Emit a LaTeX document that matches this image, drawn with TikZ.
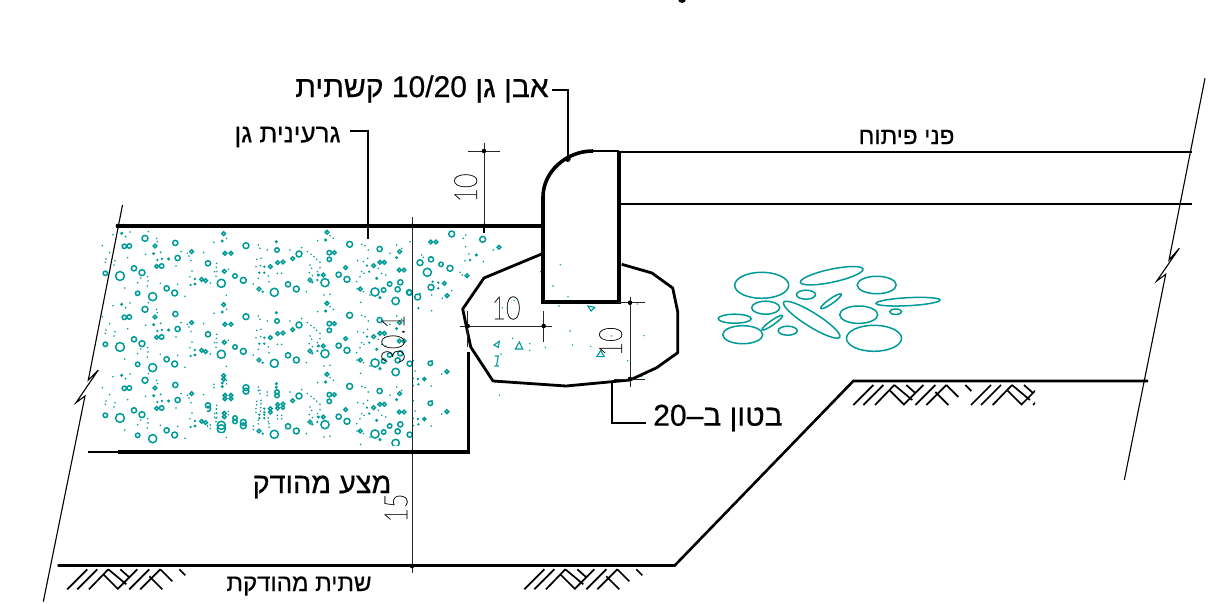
\documentclass[tikz,border=0pt]{standalone}
\usepackage{fontspec}
\setmainfont{Liberation Sans}
\newfontfamily\hebfont[Script=Hebrew,FakeBold=0.5]{Liberation Sans}
\newfontfamily\dimfont[FakeBold=1.1]{Lato Thin}
\TeXXeTstate=1
\definecolor{hatchteal}{HTML}{009A98}
\definecolor{dimgrey}{HTML}{111111}
% stipple data: x/y/r in 3x crop units
\def\ZfourOpen{551/71/5,315/85/8,253/109/6,268/108/6,406/99/7,455/125/5,413/144/7,345/108/5,282/175/7,306/188/8,240/198/12,350/169/5,365/168/6,380/235/7,404/249/8,338/260/11,293/250/6,196/190/6,504/160/7,553/184/5,485/208/5,497/212/5,544/220/11,555/130/5}
\def\ZfourFill{245/70/4,341/131/4,386/147/4,366/147/3,547/93/4,465/222/4,452/225/3,465/207/3,257/80/2.5,352/150/3,362/127/2.5}
\def\ZfourDot{270/66,219/74,325/65,350/85,352/95,423/125,442/130,491/128,522/97,560/85,263/143,317/133,198/147,196/157,225/152,222/165,187/107,209/128,408/168,447/138,453/152,456/183,450/200,511/219,435/259,413/223,302/204,293/218,323/200,324/213,322/228,361/220,254/234,559/256,530/160,529/172,531/185,528/199,524/185,565/178}
\def\ZtwelveOpen{48/62/8,3/85/5,141/75/6,207/87/8,188/101/5,159/111/5,143/113/5,15/153/6,40/166/8,87/192/5,133/202/11,174/178/7,199/192/8,121/125/5,359/58/8,298/83/6,313/83/5,298/103/6,347/128/5,326/149/7,351/163/8,285/173/11,240/165/5,280/150/5,291/22/5,449/72/7,450/112/5,463/112/5,431/122/5,509/80/5,479/177/6,511/172/7,503/193/7,497/228/10,435/201/11,461/195/6,391/192/5,508/135/5,522/135/5,539/203/7}
\def\ZtwelveFill{139/50/4,287/45/4,103/125/3,88/143/3,103/143/3,265/150/4,262/165/3,247/172/3,98/200/3,440/160/4,450/218/4,411/122/3,418/140/3,500/98/4}
\def\ZtwelveDot{300/32,310/40,263/47,85/60,90/70,112/75,180/75,215/68,232/80,243/88,252/95,260/103,270/112,270/128,240/120,245/130,238/143,262/140,247/152,282/210,229/200,300/208,80/103,93/100,78/125,92/122,142/145,155/145,115/153,117/170,70/177,85/160,405/62,395/58,415/75,383/107,400/110,413/100,395/140,390/155,380/170,381/192,400/200,420/210,392/232,402/145,445/130,455/145,467/150,480/85,500/60,515/70}
\def\ZtwoOpen{155/12/8,248/28/8,297/52/5,92/36/5,108/36/5,60/98/8,93/88/7,123/103/6,150/115/8,82/127/11,201/137/5,133/160/5,93/172/8,53/201/8,27/187/7,141/197/5}
\def\ZtwoFill{229/75/4,115/175/3,98/155/3,115/158/3,210/90/3,55/235/3,195/92/2}
\def\ZtwoDot{197/15,190/25,197/50,280/60,207/72,187/135,250/95,180/127,155/182,127/205,95/242,95/195,65/75,70/82,30/35,60/190}
\def\StripOpen{181/220/6,231/245/5,163/267/4}
\def\StripFill{144/267/3,145/283/3,130/287/2}
\def\StripDot{186/212,215/252,135/243,130/265,184/288,130/212}
\def\ConcDot{481/104,422/125,459/168,504/200,477/228,712/222,342/211,307/233,338/325,389/341,389/361,436/352,510/303,517/345,572/349,635/318,732/317,683/392,298/495,303/372,725/440}
\newcommand{\stippleset}[3]{%
  \foreach \stX/\stY/\stR in #1 \draw[stipopen] (\stX,\stY) circle[radius=\stR*0.37pt];
  \foreach \stX/\stY/\stR in #2 \fill[hatchteal] (\stX,\stY) circle[radius=\stR*0.42pt];
  \foreach \stX/\stY in #3 \fill[hatchteal] (\stX,\stY) circle[radius=0.85pt];
}
\newcommand{\bands}[2]{%
  \begin{scope}[x=.3333pt,y=-.3333pt,shift={(40pt+#1pt,-210pt-#2pt)}]
    \stippleset{\ZfourOpen}{\ZfourFill}{\ZfourDot}
  \end{scope}
  \begin{scope}[x=.3333pt,y=-.3333pt,shift={(230pt+#1pt,-225pt-#2pt)}]
    \stippleset{\ZtwelveOpen}{\ZtwelveFill}{\ZtwelveDot}
  \end{scope}
}
\tikzset{
  thin line/.style={line width=1.1pt,black},
  heavy/.style={line width=4.2pt,black,line join=miter},
  midline/.style={line width=2.6pt,black},
  leader/.style={line width=2pt,black},
  earth/.style={line width=1.7pt,black},
  dimline/.style={line width=.9pt,black!85},
  stipopen/.style={hatchteal,line width=1.5pt},
  rock/.style={hatchteal,line width=1.5pt},
  heb/.style={inner sep=0pt,text=black},
  hebA/.style={heb,font=\hebfont\fontsize{30}{30}\selectfont},
  hebB/.style={heb,font=\hebfont\fontsize{26}{26}\selectfont},
  hebC/.style={heb,font=\hebfont\fontsize{24}{24}\selectfont},
  hebD/.style={heb,font=\hebfont\fontsize{28.8}{29}\selectfont},
  dimtext/.style={font=\dimfont\fontsize{32}{32}\selectfont,inner sep=0pt,text=dimgrey},
}
\newcommand{\dimdot}[1]{\fill[black] (#1) circle[radius=2.3pt];}
\newcommand{\earthpiece}[1]{%
  \begin{scope}[shift={(#1)}]
    \draw[earth] (0,20)--(20,0) (10,20)--(30,0) (21.7,20)--(41,0) (36,5)--(51,20)
      (50,20)--(70,0) (41,0)--(59,15) (53,0)--(62,8) (62,20)--(82,0) (73,20)--(93,0)
      (82,7)--(95,20) (93,0)--(105,12) (112,0)--(118,6);
  \end{scope}}
\begin{document}
\begin{tikzpicture}[x=1pt,y=-1pt]
\useasboundingbox (0,0) rectangle (1223,604);
\fill[white] (0,0) rectangle (1223,604);
\fill[black] (682,-1) ellipse[x radius=4pt,y radius=4pt];

% stipple fill of the garden soil
\begin{scope}
  \clip (100,229) rectangle (505,445);
  \bands{0}{0}\bands{0}{71}\bands{0}{142}
  \begin{scope}
    \clip (207,365) rectangle (285,432);
    \bands{0}{145.5}
  \end{scope}
  \begin{scope}[x=.3333pt,y=-.3333pt,shift={(400pt,-230pt)}]
    \stippleset{\ZtwoOpen}{\ZtwoFill}{\ZtwoDot}
  \end{scope}
  \foreach \sy in {0,40}{
  \begin{scope}[x=.3333pt,y=-.3333pt,shift={(370pt,-290pt-\sy pt)}]
    \stippleset{\StripOpen}{\StripFill}{\StripDot}
  \end{scope}}
\end{scope}

% speckle in the concrete
\begin{scope}[x=.3333pt,y=-.3333pt,shift={(400pt,-230pt)}]
  \foreach \stX/\stY in \ConcDot \fill[hatchteal] (\stX,\stY) circle[radius=.8pt];
  \draw[hatchteal,line width=1.1pt] (564,228)--(584,232)--(573,243)--cycle;
  \draw[hatchteal,line width=1.1pt] (298,334)--(282,345)--(295,352)--cycle;
  \draw[hatchteal,line width=1.1pt] (358,336)--(346,357)--(368,357)--cycle;
  \draw[hatchteal,line width=1.1pt] (602,362)--(590,380)--(613,380)--cycle;
  \draw[hatchteal,line width=1.1pt] (285,378)--(295,378)--(290,405) (283,408)--(297,408);
\end{scope}

% rocks
\draw[rock] (761.7,285.3) ellipse[x radius=27pt,y radius=13pt];
\draw[rock] (831.7,275.7) ellipse[x radius=32pt,y radius=6.5pt,rotate=12];
\draw[rock] (876.7,285) ellipse[x radius=19.5pt,y radius=8.7pt];
\draw[rock] (806,294.7) ellipse[x radius=9.5pt,y radius=4.5pt];
\draw[rock] (831,301.3) ellipse[x radius=12.5pt,y radius=2.5pt,rotate=35];
\draw[rock] (908,301.7) ellipse[x radius=32pt,y radius=4pt,rotate=3];
\draw[rock] (765.7,307.7) ellipse[x radius=14pt,y radius=6.5pt];
\draw[rock] (811.7,319.7) ellipse[x radius=33pt,y radius=7pt,rotate=-32];
\draw[rock] (858.7,314.7) ellipse[x radius=19pt,y radius=8.7pt];
\draw[rock] (895.7,311.7) ellipse[x radius=6pt,y radius=2.7pt];
\draw[rock] (734.7,318.7) ellipse[x radius=16.5pt,y radius=4.5pt];
\draw[rock] (772.3,322.7) ellipse[x radius=12.5pt,y radius=2.3pt,rotate=35];
\draw[rock] (742.7,334.7) ellipse[x radius=20pt,y radius=9pt];
\draw[rock] (787.7,330.7) ellipse[x radius=9.5pt,y radius=4.5pt];
\draw[rock] (874,338.3) ellipse[x radius=27.5pt,y radius=13pt];

% break lines
\draw[thin line] (122.5,205)--(88.3,380)--(98.3,370)--(76,402.7)--(85,396)--(43.3,601.7);
\draw[thin line] (1205,78.3)--(1169,260)--(1179.3,248.3)--(1156.7,281)--(1165.7,274.3)--(1124.3,480);

% ground lines
\coordinate (g1) at (57.7,565.5);\coordinate (g2) at (674.7,565.5);\coordinate (g3) at (853.3,381);\coordinate (g4) at (1148,381);
\draw[midline,line join=miter] (g1)--(g2)--(g3)--(g4);
\earthpiece{67.3,569.3}
\earthpiece{524.3,569.3}
\begin{scope}
  \clip (845,380) rectangle (1035,410);
  \earthpiece{853.3,385}
  \earthpiece{971,385}
\end{scope}

% garden soil lines
\coordinate (ts) at (118,226);\coordinate (te) at (543,226);
\coordinate (bs) at (88,452);\coordinate (bm) at (118,452);\coordinate (be) at (469.5,452);\coordinate (bv) at (468,352);
\draw[heavy] (ts)--(te);
\fill[black] (ts) circle[radius=2.4pt];
\draw[midline] (bs)--(bm);
\draw[heavy,line width=3.8pt] (bm)--(be);
\draw[line width=3pt,black] (bv)--(468,453.5);

% concrete bed
\draw[line width=2.8pt,black,line join=round]
  (541.7,254)--(484,278)--(462.7,309)--(470.7,347)--(493,381)--(566,386)--(630,380)--(656.7,367.7)--(677.7,352.7)--(677.7,311.7)--(672.7,288)--(652,273)--(621.7,264.3);

% kerb
\coordinate (k1) at (543,302);\coordinate (k2) at (543,197);\coordinate (k3) at (593,151);\coordinate (k4) at (619,151);\coordinate (k5) at (619,302);
\draw[line width=2.8pt,black] (k3)--(k4);
\draw[line width=4.2pt,black,line join=miter] (k4)--(k5)--(k1)--(k2);
\draw[line width=3.6pt,black] (k2) .. controls (543,172) and (566,151) .. (593,151);
\coordinate (r1a) at (619,152);\coordinate (r1b) at (1192,152);
\coordinate (r2a) at (619,204);\coordinate (r2b) at (1192,204);
\draw[line width=2.3pt,black] (r1a)--(r1b);
\draw[line width=2pt,black] (r2a)--(r2b);

% dimensions
\draw[dimline] (412,217)--(412,573);
\dimdot{412,226}\dimdot{412,452}\dimdot{412,566}
\draw[dimline] (484,143)--(484,233) (468,151)--(500,151);
\draw[line width=2pt,black] (484,226)--(484,233);
\dimdot{484,151}\dimdot{484,226}
\draw[dimline] (460,326)--(551.7,326) (467.7,311)--(467.7,346.7) (543.7,311)--(543.7,341.7);
\dimdot{467.7,326}\dimdot{543.7,326}
\draw[dimline] (630,296.7)--(630,386.7) (618,302.7)--(645,302.7) (614,379)--(645,379);
\dimdot{630,302.7}\dimdot{630,379}
\node[dimtext] (d10a) at (506,308) {\scalebox{.78}[1]{10}};
\node[dimtext,rotate=90] (d10b) at (465.7,188) {\scalebox{.78}[1]{10}};
\node[dimtext,rotate=90] (d10c) at (610.7,341.7) {\scalebox{.78}[1]{10}};
\node[dimtext,rotate=90] (d30) at (393,339) {\scalebox{.78}[1]{30.1}};
\node[dimtext,rotate=90] (d15) at (396,508) {\scalebox{.78}[1]{15}};

% labels
\node[hebA] (kerbl) at (422,89) {\beginR אבן גן \beginL 10/20\endL{} קשתית\endR};
\node[hebB] (soil) at (287.5,137) {\beginR גרעינית גן\endR};
\node[hebC] (road) at (906.5,137) {\beginR פני פיתוח\endR};
\node[hebA] (conc) at (718,418) {\beginR בטון ב–\beginL 20\endL\endR};
\node[hebD] (fill) at (322,487) {\beginR מצע מהודק\endR};
\node[hebC] (subg) at (299,586) {\beginR שתית מהודקת\endR};

% leaders
\coordinate (la1) at (552,90);\coordinate (la2) at (567.7,90);\coordinate (la3) at (567.7,159);
\draw[leader] (la1)--(la2)--(la3);
\fill[black] (la3) circle[radius=3pt];
\coordinate (lb1) at (350,131);\coordinate (lb2) at (368,131);\coordinate (lb3) at (368,239);
\draw[leader] (lb1)--(lb2)--(lb3);
\coordinate (lc1) at (611.7,382);\coordinate (lc2) at (611.7,422.5);\coordinate (lc3) at (645.7,422.5);
\draw[leader] (lc1)--(lc2)--(lc3);
\end{tikzpicture}
\end{document}
